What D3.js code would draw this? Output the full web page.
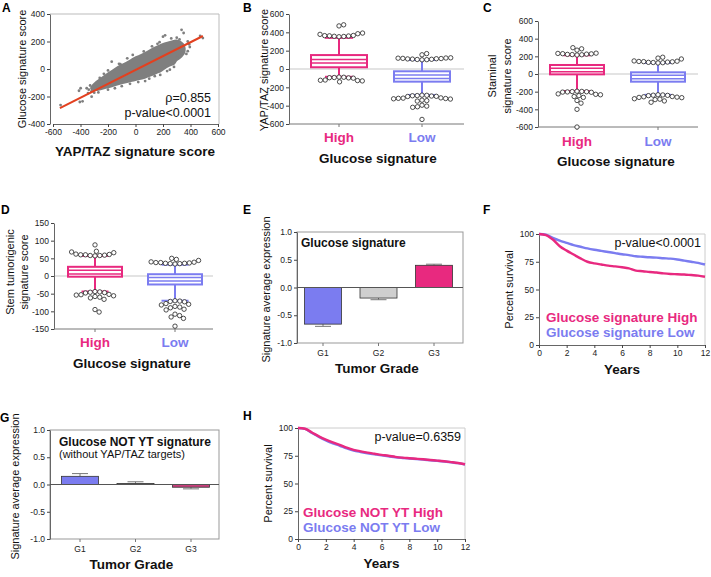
<!DOCTYPE html>
<html>
<head>
<meta charset="UTF-8">
<title>Glucose signature figure</title>
<script src="https://cdn.jsdelivr.net/npm/d3@7"></script>
<style>
  body { margin: 0; background: #fff; }
  svg { display: block; font-family: "Liberation Sans", Arial, sans-serif; }
  .tick text { font-size: 8.5px; fill: #222; }
</style>
</head>
<body>
<svg id="fig" width="711" height="577"></svg>
<script>
// ---------- data ----------
// A: outline of the dense gray cloud, plus points lying around it
const cloudOutline = [[-330,-140],[-310,-108],[-285,-85],[-250,-60],[-210,-30],[-173,-8],[-130,22],[-90,42],[-52,62],[0,92],[40,110],[69,124],[110,148],[150,168],[190,186],[230,198],[270,210],[300,214],[330,203],[355,180],[365,150],[360,115],[335,82],[300,55],[287,35],[250,18],[210,-5],[190,-20],[150,-38],[110,-55],[69,-70],[30,-80],[0,-88],[-52,-100],[-100,-110],[-150,-125],[-190,-138],[-240,-150],[-280,-160],[-315,-158]];
const scatterPts = [[-545,-262],[-411,-158],[-399,-140],[-405,-240],[-385,-235],[-319,-201],[-340,-150],[-300,-172],[-270,-170],[-200,-150],[-150,-140],[-100,-125],[-173,53],[-200,-10],[-230,-35],[-120,38],[-60,78],[-20,102],[200,235],[215,245],[335,285],[350,262],[380,200],[490,225],[470,240],[300,228],[260,222],[320,215],[335,115],[300,90],[310,95],[380,130],[180,-43],[70,-88],[100,-70],[250,-5],[230,-15],[120,165],[160,183],[60,128],[-280,-95],[-260,-65],[395,160],[390,180],[-330,-120],[-320,-162],[-355,-140],[-345,-175],[20,-95],[140,-52],[280,15],[-40,-108],[370,110],[-110,35],[175,195]];
const fitLine = [[-550,-284],[490,240]];
const rhoText = "\u03c1=0.855";
const pTextA = "p-value<0.0001";

// B, C, D: box statistics [lowWhisker, q1, median, q3, highWhisker]
const groups = ["High", "Low"];
const boxB = [[-85, 19, 85, 152, 340], [-283, -138, -84, -25, 98]];
const boxC = [[-193, -4, 45, 102, 212], [-236, -87, -34, 19, 125]];
const boxD = [[-44, -2, 11, 26, 57], [-70, -24, -9, 5, 32]];
// outliers per group
const outB = [
  [352,355,357,360,362,364,366,378,385,392,470,482,
   -88,-90,-93,-95,-97,-100,-120,-123,-126,-130,-140],
  [100,102,104,106,108,110,112,114,116,118,120,122,155,168,
   -285,-287,-290,-292,-295,-298,-300,-315,-318,-320,-322,-325,-328,-340,-345,-350,-395,-405,-412,-418,-550]
];
const outC = [
  [215,218,220,222,225,228,230,233,236,270,285,298,
   -195,-197,-199,-201,-203,-205,-207,-225,-230,-235,-245,-255,-265,-300,-330,-400,-600],
  [125,128,130,132,135,138,140,142,145,148,170,180,190,
   -235,-237,-240,-242,-245,-255,-258,-262,-265,-268,-280,-285,-290,-305,-320]
];
const outD = [
  [57,58,58,59,60,60,61,62,66,68,70,88,
   -44,-45,-46,-47,-48,-52,-53,-54,-56,-58,-60,-62,-66,-95,-102],
  [34,35,35,36,36,37,38,38,39,40,44,47,50,
   -70,-71,-72,-73,-78,-80,-82,-86,-88,-90,-94,-96,-108,-112,-116,-120,-142]
];

// E, G: tumour grade bars
const grades = ["G1", "G2", "G3"];
const gradeE = [-0.66, -0.19, 0.40];
const errE = [0.04, 0.03, 0.02];
const gradeG = [0.15, 0.02, -0.05];
const errG = [0.05, 0.03, 0.03];

// F, H: survival curves (percent survival by year)
const years = [0,0.5,1,1.5,2,2.5,3,3.5,4,4.5,5,5.5,6,6.5,7,7.5,8,8.5,9,9.5,10,10.5,11,11.5,12];
const survFHigh = [100,99,95,89,85,81.5,78,75,73.5,72.5,71.5,70.8,70,69,67,66.5,65.8,65.3,64.5,64,63.8,63.5,63,62.5,61.5];
const survFLow = [100,99.3,96.5,94,92,90,88.5,87,85.8,84.8,83.8,82.8,81.8,81,80,79.5,79,78.7,78.2,77.8,77,76,75,74,72.5];
const survHHigh = [100,99.3,96,92.5,89.5,87,84.8,82.3,80.3,79,77.8,76.8,75.8,75,74,73.3,72.8,72.3,71.8,71.2,70.6,70,69.3,68.5,67.3];
const survHLow = [100,99.2,95.6,92,88.8,86.2,84,81.6,79.7,78.4,77.2,76.2,75.3,74.5,73.6,73,72.5,72,71.5,71,70.4,69.8,69.1,68.3,67.1];

const pink = "#e8297f", blue = "#7b7cf0";

// ---------- helpers ----------
const svg = d3.select("#fig");
const plain = d => String(d);

function text(x, y, s, opts = {}) {
  const t = svg.append("text").attr("x", x).attr("y", y).text(s)
    .attr("font-size", opts.size || 10.5)
    .attr("fill", opts.fill || "#111")
    .attr("text-anchor", opts.anchor || "start");
  if (opts.bold) t.attr("font-weight", "bold");
  if (opts.rotate) t.attr("transform", `rotate(-90,${x},${y})`);
  return t;
}

function leftAxis(scale, x, ticks, fmt) {
  const g = svg.append("g").attr("transform", `translate(${x},0)`)
    .call(d3.axisLeft(scale).tickValues(ticks).tickFormat(fmt).tickSize(3).tickSizeOuter(0).tickPadding(2));
  g.select(".domain").attr("stroke", "#666");
  g.selectAll(".tick line").attr("stroke", "#444");
  return g;
}
function bottomAxis(scale, y, ticks, fmt) {
  const g = svg.append("g").attr("transform", `translate(0,${y})`)
    .call(d3.axisBottom(scale).tickValues(ticks).tickFormat(fmt).tickSize(3).tickSizeOuter(0).tickPadding(2));
  g.select(".domain").attr("stroke", "#666");
  g.selectAll(".tick line").attr("stroke", "#444");
  return g;
}

function letter(x, y, s) { text(x, y, s, { size: 12, bold: true, fill: "#000" }); }

// simple beeswarm: place each value as close to the centre as possible
function swarm(vals, y, r) {
  const placed = [];
  const d = 2 * r + 0.4;
  vals.forEach(v => {
    const py = y(v);
    const cands = [0];
    placed.forEach(p => {
      const dy = p.py - py;
      if (Math.abs(dy) < d) {
        const w = Math.sqrt(d * d - dy * dy);
        cands.push(p.dx + w, p.dx - w);
      }
    });
    cands.sort((a, b) => Math.abs(a) - Math.abs(b));
    const dx = cands.find(c => placed.every(p => (p.dx - c) ** 2 + (p.py - py) ** 2 >= d * d - 0.01));
    placed.push({ dx, py });
  });
  return placed;
}

function boxPanel(cfg) {
  const y = d3.scaleLinear().domain(cfg.domain).range([cfg.bottom, cfg.top]);
  const x = d3.scalePoint().domain(groups).range(cfg.centers);
  svg.append("line").attr("x1", cfg.left).attr("x2", cfg.right)
    .attr("y1", y(0)).attr("y2", y(0)).attr("stroke", "#c8c8c8").attr("stroke-width", 1.2);
  leftAxis(y, cfg.left, cfg.ticks, plain);
  const xb = svg.append("g").attr("transform", `translate(0,${cfg.bottom})`);
  xb.append("line").attr("x1", cfg.left).attr("x2", cfg.right).attr("stroke", "#777");
  groups.forEach(gname => {
    xb.append("line").attr("x1", x(gname)).attr("x2", x(gname)).attr("y2", 3).attr("stroke", "#777");
  });
  groups.forEach((gname, i) => {
    const [lo, q1, med, q3, hi] = cfg.stats[i];
    const cx = x(gname), col = i === 0 ? pink : blue, w = cfg.boxW;
    const g = svg.append("g");
    g.append("line").attr("x1", cx).attr("x2", cx).attr("y1", y(hi)).attr("y2", y(lo))
      .attr("stroke", col).attr("stroke-width", 2);
    [lo, hi].forEach(v => g.append("line").attr("x1", cx - w / 4).attr("x2", cx + w / 4)
      .attr("y1", y(v)).attr("y2", y(v)).attr("stroke", col).attr("stroke-width", 2));
    g.append("rect").attr("x", cx - w / 2).attr("width", w).attr("y", y(q3)).attr("height", y(q1) - y(q3))
      .attr("fill", "#fff").attr("stroke", col).attr("stroke-width", 2);
    [-1.8, 1.8].forEach(o => g.append("line").attr("x1", cx - w / 2).attr("x2", cx + w / 2)
      .attr("y1", y(med) + o).attr("y2", y(med) + o).attr("stroke", col).attr("stroke-width", 1.5));
    const vals = cfg.outliers[i].slice().sort((a, b) => Math.abs(a - med) - Math.abs(b - med));
    const pos = swarm(vals, y, 2.2);
    g.selectAll("circle").data(pos).join("circle")
      .attr("cx", p => cx + p.dx).attr("cy", p => p.py).attr("r", 2.2)
      .attr("fill", "#fff").attr("stroke", "#222").attr("stroke-width", 0.8);
    text(cx, cfg.catY, gname, { size: 13.5, bold: true, fill: col, anchor: "middle" });
  });
  text(cfg.titleX, cfg.titleY, "Glucose signature", { size: 13.5, bold: true, anchor: "middle" });
}

function barPanel(cfg) {
  const y = d3.scaleLinear().domain([-1, 1]).range([cfg.bottom, cfg.top]);
  const x = d3.scalePoint().domain(grades).range(cfg.centers);
  svg.append("rect").attr("x", cfg.left).attr("y", cfg.top).attr("width", cfg.right - cfg.left)
    .attr("height", cfg.bottom - cfg.top).attr("fill", "none").attr("stroke", "#999");
  leftAxis(y, cfg.left, [-1, -0.5, 0, 0.5, 1], d => d.toFixed(1));
  const xa = svg.append("g");
  grades.forEach(gname => {
    xa.append("line").attr("x1", x(gname)).attr("x2", x(gname)).attr("y1", cfg.bottom).attr("y2", cfg.bottom + 3).attr("stroke", "#777");
    text(x(gname), cfg.bottom + 13, gname, { size: 8.5, anchor: "middle", fill: "#222" });
  });
  cfg.values.forEach((v, i) => {
    const cx = x(grades[i]), w = cfg.barW, tip = v + Math.sign(v) * cfg.errs[i];
    svg.append("line").attr("x1", cx).attr("x2", cx).attr("y1", y(v)).attr("y2", y(tip)).attr("stroke", "#777");
    svg.append("line").attr("x1", cx - 8).attr("x2", cx + 8).attr("y1", y(tip)).attr("y2", y(tip)).attr("stroke", "#777");
    svg.append("rect").attr("x", cx - w / 2).attr("width", w)
      .attr("y", Math.min(y(v), y(0))).attr("height", Math.abs(y(v) - y(0)))
      .attr("fill", cfg.colors[i]).attr("stroke", "#333").attr("stroke-width", 0.8);
  });
  svg.append("line").attr("x1", cfg.left).attr("x2", cfg.right).attr("y1", y(0)).attr("y2", y(0)).attr("stroke", "#555");
  text(cfg.titleX, (cfg.top + cfg.bottom) / 2 + 2, "Signature average expression", { rotate: true, anchor: "middle", size: 11 });
  text((cfg.left + cfg.right) / 2 - 3, cfg.bottom + 30, "Tumor Grade", { size: 13.5, bold: true, anchor: "middle" });
}

function survPanel(cfg) {
  const x = d3.scaleLinear().domain([0, 12]).range([cfg.left, cfg.right]);
  const y = d3.scaleLinear().domain([0, 100]).range([cfg.bottom, cfg.top]);
  svg.append("path").attr("d", `M${cfg.left},${cfg.top}H${cfg.right}V${cfg.bottom}`)
    .attr("fill", "none").attr("stroke", "#ccc");
  leftAxis(y, cfg.left, [0, 25, 50, 75, 100], plain);
  bottomAxis(x, cfg.bottom, [0, 2, 4, 6, 8, 10, 12], plain);
  const line = d3.line().x((d, i) => x(years[i])).y(d => y(d)).curve(d3.curveMonotoneX);
  cfg.series.forEach(s => {
    svg.append("path").attr("d", line(s.values)).attr("fill", "none")
      .attr("stroke", s.color).attr("stroke-width", 2.4);
  });
  text(cfg.right - 4, cfg.top + 13, cfg.pText, { size: 12.5, anchor: "end" });
  cfg.legend.forEach((s, i) => text(cfg.legX, cfg.legY + i * 15, s.label, { size: 13.5, bold: true, fill: s.color }));
  text(cfg.left - 26, (cfg.top + cfg.bottom) / 2, "Percent survival", { rotate: true, anchor: "middle", size: 11 });
  text((cfg.left + cfg.right) / 2, cfg.bottom + 29, "Years", { size: 13.5, bold: true, anchor: "middle" });
}

// ---------- A ----------
{
  const x = d3.scaleLinear().domain([-600, 600]).range([53, 218]);
  const y = d3.scaleLinear().domain([-400, 400]).range([124, 14]);
  svg.append("path").attr("d", `M50,14H219V124`).attr("fill", "none").attr("stroke", "#bbb");
  leftAxis(y, 50, [-400, -200, 0, 200, 400], plain);
  bottomAxis(x, 124, d3.range(-600, 601, 200), plain);
  svg.append("path").datum(cloudOutline)
    .attr("d", d3.line().x(d => x(d[0])).y(d => y(d[1])).curve(d3.curveCatmullRomClosed))
    .attr("fill", "#7f7f7f");
  svg.append("g").selectAll("circle").data(scatterPts).join("circle")
    .attr("cx", d => x(d[0])).attr("cy", d => y(d[1])).attr("r", 1.4).attr("fill", "#7f7f7f");
  svg.append("line").attr("x1", x(fitLine[0][0])).attr("y1", y(fitLine[0][1]))
    .attr("x2", x(fitLine[1][0])).attr("y2", y(fitLine[1][1]))
    .attr("stroke", "#e3401f").attr("stroke-width", 2);
  text(211, 102, rhoText, { size: 12.5, anchor: "end" });
  text(211, 117, pTextA, { size: 12.5, anchor: "end" });
  text(26, 69, "Glucose signature score", { rotate: true, anchor: "middle", size: 11 });
  text(135, 156, "YAP/TAZ signature score", { size: 13.5, bold: true, anchor: "middle" });
  letter(2, 12, "A");
}

// ---------- B ----------
boxPanel({ domain: [-600, 600], top: 14, bottom: 124, left: 289, right: 464, centers: [339, 422],
  ticks: d3.range(-600, 601, 200), stats: boxB, outliers: outB, boxW: 56, catY: 142, titleX: 378, titleY: 163 });
text(268, 70, "YAP/TAZ signature score", { rotate: true, anchor: "middle", size: 11 });
letter(243, 12, "B");

// ---------- C ----------
boxPanel({ domain: [-600, 600], top: 21, bottom: 127, left: 538, right: 698, centers: [577, 658],
  ticks: d3.range(-600, 601, 200), stats: boxC, outliers: outC, boxW: 54, catY: 146, titleX: 616, titleY: 166 });
text(496, 76, "Staminal", { rotate: true, anchor: "middle", size: 11 });
text(511, 76, "signature score", { rotate: true, anchor: "middle", size: 11 });
letter(483, 12, "C");

// ---------- D ----------
boxPanel({ domain: [-150, 150], top: 223, bottom: 329, left: 54, right: 213, centers: [95, 175],
  ticks: d3.range(-150, 151, 50), stats: boxD, outliers: outD, boxW: 54, catY: 347, titleX: 132, titleY: 368 });
text(14, 272, "Stem tumorigenic", { rotate: true, anchor: "middle", size: 11 });
text(28, 272, "signature score", { rotate: true, anchor: "middle", size: 11 });
letter(1, 214, "D");

// ---------- E ----------
barPanel({ top: 232, bottom: 343, left: 297, right: 463, centers: [323, 434], barW: 37, titleX: 270,
  values: gradeE, errs: errE, colors: [blue, "#cfcfcf", pink] });
text(301, 247, "Glucose signature", { size: 12, bold: true });
letter(243, 214, "E");

// ---------- F ----------
survPanel({ left: 539, right: 705, top: 234, bottom: 345, pText: "p-value<0.0001",
  series: [{ values: survFLow, color: blue }, { values: survFHigh, color: pink }],
  legend: [{ label: "Glucose signature High", color: pink }, { label: "Glucose signature Low", color: blue }],
  legX: 546, legY: 322 });
letter(483, 214, "F");

// ---------- G ----------
barPanel({ top: 430, bottom: 539, left: 50, right: 219, centers: [80, 191], barW: 37, titleX: 19,
  values: gradeG, errs: errG, colors: [blue, "#8a8a8a", "#c7407c"] });
text(59, 446, "Glucose NOT YT signature", { size: 12, bold: true });
text(59, 458, "(without YAP/TAZ targets)", { size: 11 });
letter(0, 422, "G");

// ---------- H ----------
survPanel({ left: 298, right: 465, top: 428, bottom: 539, pText: "p-value=0.6359",
  series: [{ values: survHLow, color: blue }, { values: survHHigh, color: pink }],
  legend: [{ label: "Glucose NOT YT High", color: pink }, { label: "Glucose NOT YT Low", color: blue }],
  legX: 303, legY: 517 });
letter(243, 420, "H");
</script>
</body>
</html>
